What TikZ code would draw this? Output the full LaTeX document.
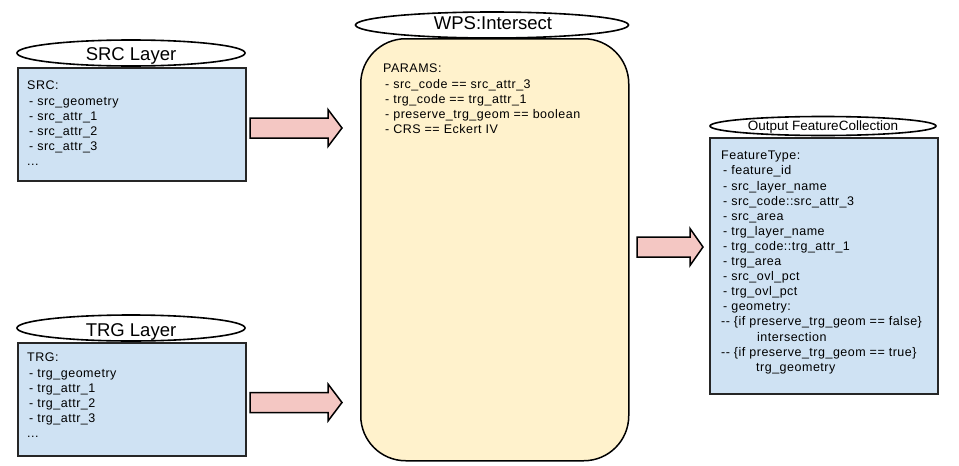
\documentclass[tikz,border=0pt]{standalone}
\usepackage{fontspec}
\setmainfont{Liberation Sans}
\newfontfamily\bodyfont[LetterSpace=4]{Liberation Sans}
\usetikzlibrary{shapes.geometric}
\definecolor{boxblue}{HTML}{CFE2F3}
\definecolor{boxcream}{HTML}{FFF2CC}
\definecolor{arrowpink}{HTML}{F4C7C3}
\begin{document}
\begin{tikzpicture}[x=1pt,y=-1pt,
  titleell/.style={ellipse, draw=black, line width=1.6pt, fill=white, inner sep=0pt},
  titletext/.style={anchor=base, inner sep=0pt, font=\fontsize{18.5}{18.5}\selectfont},
  bluebox/.style={draw=black!85, line width=1.5pt, fill=boxblue, inner sep=0pt, anchor=north west},
  txt/.style={anchor=north west, inner sep=0pt, align=left, font=\bodyfont\fontsize{12.5}{15.1}\selectfont},
  blockarrow/.style={draw=black, line width=1.5pt, fill=arrowpink, line join=miter}
]
\useasboundingbox (0,0) rectangle (959,466);
\fill[white] (0,0) rectangle (959,466);

% SRC
\node[bluebox, minimum width=228, minimum height=113] (srcbox) at (17,67) {};
\node[titleell, minimum width=228, minimum height=26] (srctitle) at (131,53) {};
\node[titletext] (srctitletxt) at (131,60.5) {SRC Layer};
\node[txt] (srctxt) at (27,81) {SRC:\\\hspace*{2pt}- src\_geometry\\\hspace*{2pt}- src\_attr\_1\\\hspace*{2pt}- src\_attr\_2\\\hspace*{2pt}- src\_attr\_3\\...};

% TRG
\node[bluebox, minimum width=228, minimum height=113] (trgbox) at (17,342) {};
\node[titleell, minimum width=228, minimum height=26] (trgtitle) at (131,328) {};
\node[titletext] (trgtitletxt) at (131,336.5) {TRG Layer};
\node[txt] (trgtxt) at (27,353) {TRG:\\\hspace*{2pt}- trg\_geometry\\\hspace*{2pt}- trg\_attr\_1\\\hspace*{2pt}- trg\_attr\_2\\\hspace*{2pt}- trg\_attr\_3\\...};

% WPS
\node[draw=black, line width=1.5pt, fill=boxcream, rounded corners=45pt, minimum width=268, minimum height=422, anchor=north west, inner sep=0pt] (wpsbox) at (360,38) {};
\node[titleell, minimum width=273, minimum height=26] (wpstitle) at (492,25) {};
\node[titletext] (wpstitletxt) at (493,29.5) {WPS:Intersect};
\node[txt] (wpstxt) at (383,64) {PARAMS:\\\hspace*{2pt}- src\_code == src\_attr\_3\\\hspace*{2pt}- trg\_code == trg\_attr\_1\\\hspace*{2pt}- preserve\_trg\_geom == boolean\\\hspace*{2pt}- CRS == Eckert IV};

% Output
\node[bluebox, minimum width=228, minimum height=256] (outbox) at (709,137) {};
\node[titleell, minimum width=226, minimum height=19] (outtitle) at (823,126) {};
\node[titletext, font=\fontsize{13.5}{13.5}\selectfont] (outtitletxt) at (823,130.8) {Output FeatureCollection};
\node[txt] (outtxt) at (721,151) {FeatureType:\\\hspace*{2pt}- feature\_id\\\hspace*{2pt}- src\_layer\_name\\\hspace*{2pt}- src\_code::src\_attr\_3\\\hspace*{2pt}- src\_area\\\hspace*{2pt}- trg\_layer\_name\\\hspace*{2pt}- trg\_code::trg\_attr\_1\\\hspace*{2pt}- trg\_area\\\hspace*{2pt}- src\_ovl\_pct\\\hspace*{2pt}- trg\_ovl\_pct\\\hspace*{2pt}- geometry:\\-{}- \{if preserve\_trg\_geom == false\}\\\hspace*{36pt}intersection\\-{}- \{if preserve\_trg\_geom == true\}\\\hspace*{35pt}trg\_geometry};

% block arrows
\coordinate (a1) at (250,128);
\draw[blockarrow] (a1) ++(0,-10) -- ++(78,0) -- ++(0,-8.5) -- ++(14,18.5) -- ++(-14,18.5) -- ++(0,-8.5) -- ++(-78,0) -- cycle;
\coordinate (a2) at (250,402.5);
\draw[blockarrow] (a2) ++(0,-10) -- ++(78,0) -- ++(0,-8.5) -- ++(14,18.5) -- ++(-14,18.5) -- ++(0,-8.5) -- ++(-78,0) -- cycle;
\coordinate (a3) at (637,247);
\draw[blockarrow] (a3) ++(0,-10) -- ++(53,0) -- ++(0,-8.5) -- ++(13,18.5) -- ++(-13,18.5) -- ++(0,-8.5) -- ++(-53,0) -- cycle;
\end{tikzpicture}
\end{document}
